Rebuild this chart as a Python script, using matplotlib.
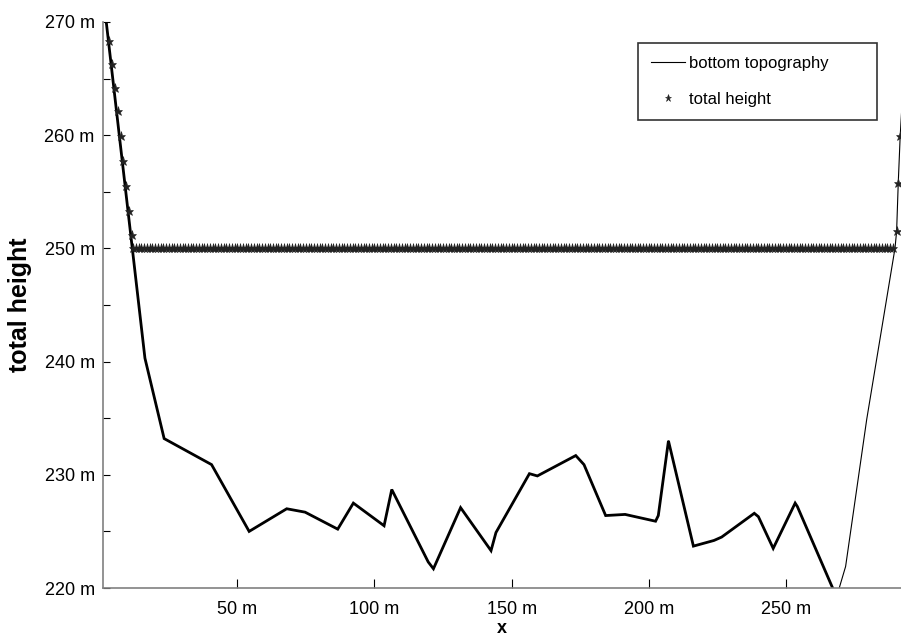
import numpy as np
import matplotlib
matplotlib.use("Agg")
import matplotlib.pyplot as plt
from matplotlib.ticker import MultipleLocator, FuncFormatter

plt.rcParams["font.family"] = ["Liberation Sans", "DejaVu Sans"]

# ── Data ────────────────────────────────────────────────────
# bottom topography profile, x in m, z in m
topo_x = [2.0, 16.3, 23.3, 40.6, 54.3, 68.0, 74.7, 86.6, 92.3, 103.5, 106.3,
          119.6, 121.5, 131.4, 142.5, 144.3, 156.5, 159.4, 173.4, 176.4,
          184.3, 191.4, 202.5, 203.5, 207.2, 216.3, 223.8, 226.6, 238.5,
          240.0, 245.4, 253.4, 254.2, 268.5,
          271.8, 279.5, 289.8, 290.4, 291.0, 291.7, 292.2]
topo_z = [270.4, 240.3, 233.2, 230.9, 225.0, 227.0, 226.7, 225.2, 227.5, 225.5, 228.7,
          222.3, 221.7, 227.1, 223.3, 224.9, 230.1, 229.9, 231.7, 230.9,
          226.4, 226.5, 225.9, 226.4, 233.0, 223.7, 224.2, 224.5, 226.6,
          226.3, 223.5, 227.5, 227.2, 219.2,
          221.9, 234.9, 250.0, 251.5, 255.8, 259.9, 262.0]
N_THICK = 34          # points drawn with the heavy line

# total height: dry cells on the left bank, wet cells, dry cells on the right bank
dry_left_x  = [3.2, 4.4, 5.4, 6.4, 7.5, 8.4, 9.4, 10.4, 11.5]
dry_left_z  = [268.3, 266.3, 264.2, 262.1, 259.9, 257.7, 255.5, 253.3, 251.2]
wet_x       = np.arange(12, 290)          # one cell per metre
water_level = 250.0
dry_right_x = [290.4, 291.0, 291.7]
dry_right_z = [251.5, 255.8, 259.9]

# ── Figure ─────────────────────────────────────────────────
fig = plt.figure(figsize=(9.01, 6.39), dpi=100)
ax = fig.add_axes([0.1143, 0.0798, 0.8857, 0.8858])

ax.plot(topo_x, topo_z, color="black", lw=0.8, label="bottom topography")
ax.plot(topo_x[:N_THICK], topo_z[:N_THICK], color="black", lw=2.0,
        solid_joinstyle="miter")

tot_x = list(dry_left_x) + list(wet_x) + list(dry_right_x)
tot_z = list(dry_left_z) + [water_level] * len(wet_x) + list(dry_right_z)
ax.plot(tot_x, tot_z, ls="none", marker="*", ms=6.5, color="#222222",
        markeredgewidth=0.4, label="total height")

ax.set_xlim(1, 292)
ax.set_ylim(220, 270)

ax.xaxis.set_major_locator(MultipleLocator(50))
ax.yaxis.set_major_locator(MultipleLocator(10))
ax.yaxis.set_minor_locator(MultipleLocator(5))
fmt = FuncFormatter(lambda v, p: f"{v:.0f} m")
ax.xaxis.set_major_formatter(fmt)
ax.yaxis.set_major_formatter(fmt)

ax.tick_params(axis="x", which="major", direction="in", length=6.5, width=0.8,
               labelsize=13, pad=9)
ax.tick_params(axis="y", which="both", direction="in", length=5, width=0.8,
               labelsize=13, pad=6)

for s in ["top", "right"]:
    ax.spines[s].set_visible(False)
for s in ["left", "bottom"]:
    ax.spines[s].set_color("#808080")
    ax.spines[s].set_linewidth(1.2)

ax.set_xlabel("x", fontsize=13, fontweight="bold", labelpad=2)
ax.set_ylabel("total height", fontsize=18, fontweight="bold", labelpad=9)

leg = ax.legend(loc="upper left", bbox_to_anchor=(0.6704, 0.863, 0.2995, 0.1),
                mode="expand", borderaxespad=0, fancybox=False, fontsize=12,
                handlelength=2.0, handletextpad=0.25, labelspacing=1.25,
                borderpad=0.8, frameon=True, markerscale=0.8)
leg.get_frame().set_edgecolor("black")
leg.get_frame().set_linewidth(1.2)

plt.savefig("out.png", dpi=100, facecolor="white")
plt.close()
